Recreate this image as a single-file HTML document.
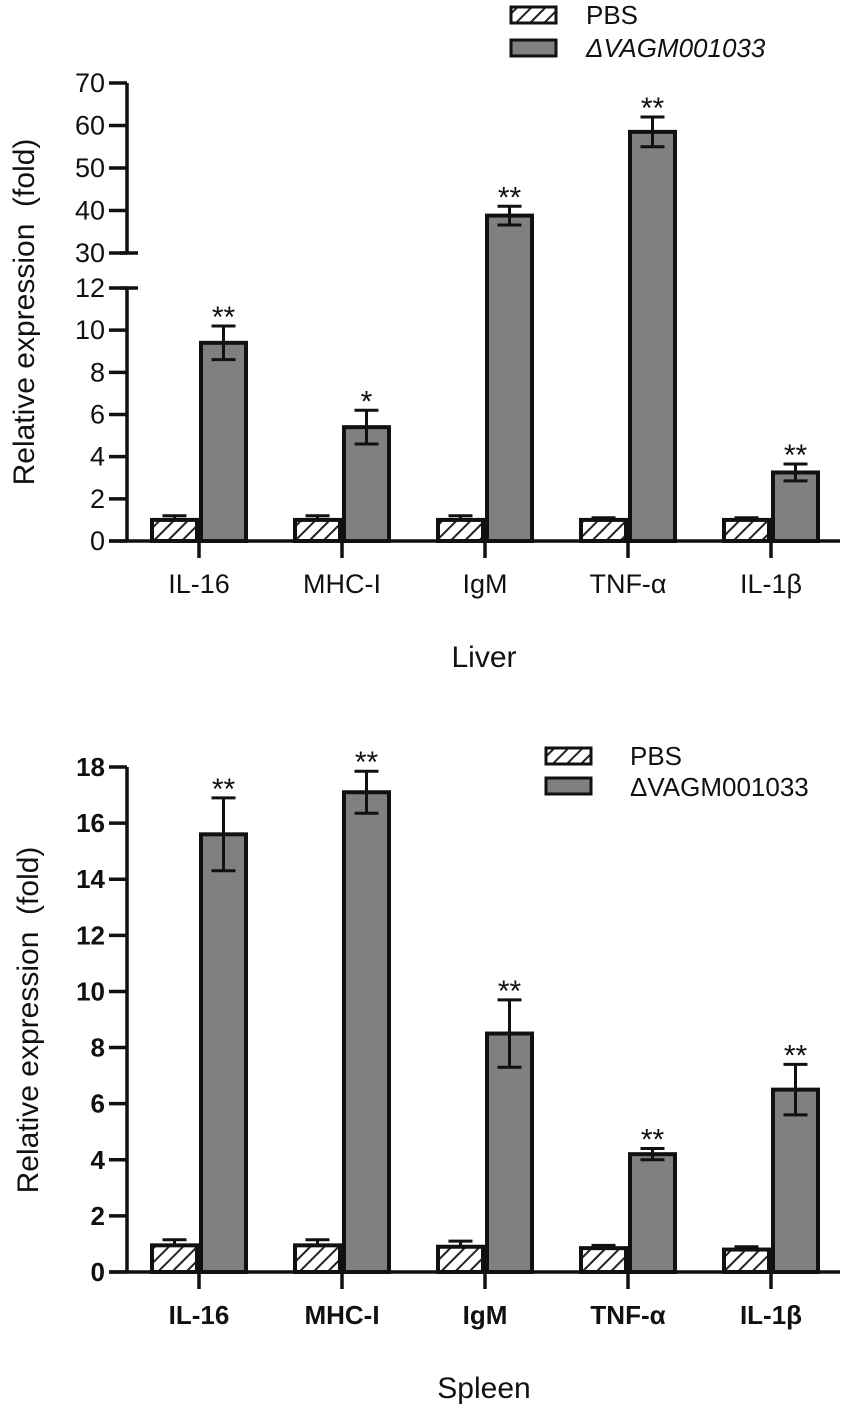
<!DOCTYPE html>
<html><head><meta charset="utf-8"><style>
html,body{margin:0;padding:0;background:#fff}
svg{display:block}
text{font-family:"Liberation Sans",Arial,sans-serif;fill:#111;white-space:pre}
</style></head><body>
<svg id="chart" width="855" height="1418" viewBox="0 0 855 1418" xmlns="http://www.w3.org/2000/svg">
<defs>
<pattern id="hatch" patternUnits="userSpaceOnUse" width="10" height="10" patternTransform="rotate(45)">
<rect width="10" height="10" fill="#fff"/><line x1="0" y1="0" x2="0" y2="10" stroke="#222" stroke-width="4"/>
</pattern>
</defs>
</svg>
<script>
const categories = ["IL-16","MHC-I","IgM","TNF-α","IL-1β"];
const liverPBS = [1.0,1.0,1.0,1.0,1.0];
const liverPBSErr = [0.2,0.2,0.2,0.1,0.1];
const liverMut = [9.4,5.4,38.8,58.5,3.25];
const liverMutErr = [0.8,0.8,2.2,3.5,0.4];
const liverSig = ["**","*","**","**","**"];
const liverTicksLow = [0,2,4,6,8,10,12];
const liverTicksHigh = [30,40,50,60,70];
const spleenPBS = [0.95,0.95,0.9,0.85,0.8];
const spleenPBSErr = [0.2,0.2,0.2,0.1,0.1];
const spleenMut = [15.6,17.1,8.5,4.2,6.5];
const spleenMutErr = [1.3,0.75,1.2,0.2,0.9];
const spleenSig = ["**","**","**","**","**"];
const spleenTicks = [0,2,4,6,8,10,12,14,16,18];

const svg = document.getElementById('chart');
const NS = "http://www.w3.org/2000/svg";
function mk(tag, attrs, parent){
  const e = document.createElementNS(NS, tag);
  for (const k in attrs) e.setAttribute(k, attrs[k]);
  (parent||svg).appendChild(e);
  return e;
}
const axisX = 127, xStart = 199, xStep = 143, barW = 45;
function catX(i){ return xStart + i*xStep; }

function yLiver(v){
  if (v <= 12) return 541 - v*(541-288)/12;
  if (v < 30) return 288 - (v-12)*(288-253)/18;
  return 253 - (v-30)*(253-83)/40;
}
function ySpleen(v){ return 1272 - v*(1272-767)/18; }

function drawChart(g, yf, pbs, pbsErr, mut, mutErr, sig, bold, baseY){
  categories.forEach((c,i)=>{
    const cx = catX(i);
    const b1 = mk('rect',{x:cx-barW-2,y:yf(pbs[i]),width:barW,height:baseY-yf(pbs[i]),fill:'url(#hatch)',stroke:'#111','stroke-width':4},g);
    
    
    const b2 = mk('rect',{x:cx+2,y:yf(mut[i]),width:barW,height:baseY-yf(mut[i]),fill:'#808080',stroke:'#111','stroke-width':4},g);
    
    
    [[cx-barW/2-2,pbs[i],pbsErr[i],false],[cx+barW/2+2,mut[i],mutErr[i],true]].forEach(([x,v,e,both])=>{
      const top = yf(v+e), bot = both ? yf(v-e) : yf(v);
      const eb = mk('path',{d:`M${x} ${bot}V${top}M${x-12} ${top}H${x+12}`+(both?`M${x-12} ${bot}H${x+12}`:''),stroke:'#111','stroke-width':3,fill:'none'},g);
      
      
    });
    const s = mk('text',{x:cx+barW/2+2,y:yf(mut[i]+mutErr[i])+1,'text-anchor':'middle','font-size':30},g);
    s.textContent = sig[i];
    
    
    const t = mk('line',{x1:cx,y1:baseY,x2:cx,y2:baseY+17,stroke:'#111','stroke-width':3.5},g);
    
    
    const l = mk('text',{x:cx,y:baseY+52,'text-anchor':'middle','font-size':bold?26:27,'font-weight':bold?'bold':'normal'},g);
    l.textContent = c;
    
    
  });
}

const g1 = mk('g',{});


mk('path',{d:`M${axisX} 541V${yLiver(12)}M${axisX-7} ${yLiver(12)}H${axisX+11}M${axisX} 83V${yLiver(30)}M${axisX-7} ${yLiver(30)}H${axisX+11}`,stroke:'#111','stroke-width':3.5,fill:'none'},g1);
mk('line',{x1:axisX-18,y1:541,x2:840,y2:541,stroke:'#111','stroke-width':3.5},g1);
liverTicksLow.concat(liverTicksHigh).forEach(v=>{
  const y = yLiver(v);
  mk('line',{x1:axisX-18,y1:y,x2:axisX,y2:y,stroke:'#111','stroke-width':3.5},g1);
  const t = mk('text',{x:axisX-22,y:y+9,'text-anchor':'end','font-size':27},g1);
  t.textContent = v;
  
  
});
drawChart(g1, yLiver, liverPBS, liverPBSErr, liverMut, liverMutErr, liverSig, false, 541);

const g2 = mk('g',{});


mk('line',{x1:axisX,y1:1272,x2:axisX,y2:767,stroke:'#111','stroke-width':3.5},g2);
mk('line',{x1:axisX-18,y1:1272,x2:840,y2:1272,stroke:'#111','stroke-width':3.5},g2);
spleenTicks.forEach(v=>{
  const y = ySpleen(v);
  mk('line',{x1:axisX-18,y1:y,x2:axisX,y2:y,stroke:'#111','stroke-width':3.5},g2);
  const t = mk('text',{x:axisX-22,y:y+9,'text-anchor':'end','font-size':26,'font-weight':'bold'},g2);
  t.textContent = v;
  
  
});
drawChart(g2, ySpleen, spleenPBS, spleenPBSErr, spleenMut, spleenMutErr, spleenSig, true, 1272);
</script>
<svg style="position:absolute;left:0;top:0" width="855" height="1418">
  <text transform="translate(34,312) rotate(-90)" text-anchor="middle" font-size="30">Relative expression  (fold)</text>
  <text x="484" y="667" text-anchor="middle" font-size="30">Liver</text>
  <rect x="511" y="7" width="45" height="16" fill="url(#hatch)" stroke="#111" stroke-width="3"/>
  <text x="586" y="24" font-size="26">PBS</text>
  <rect x="511" y="40" width="45" height="16" fill="#808080" stroke="#111" stroke-width="3"/>
  <text x="586" y="57" font-size="26" font-style="italic">ΔVAGM001033</text>

  <text transform="translate(38,1020) rotate(-90)" text-anchor="middle" font-size="30">Relative expression  (fold)</text>
  <text x="484" y="1398" text-anchor="middle" font-size="30">Spleen</text>
  <rect x="546" y="748" width="45" height="16" fill="url(#hatch)" stroke="#111" stroke-width="3"/>
  <text x="630" y="765" font-size="26">PBS</text>
  <rect x="546" y="778" width="45" height="16" fill="#808080" stroke="#111" stroke-width="3"/>
  <text x="630" y="796" font-size="26">ΔVAGM001033</text>
</svg>
</body></html>
